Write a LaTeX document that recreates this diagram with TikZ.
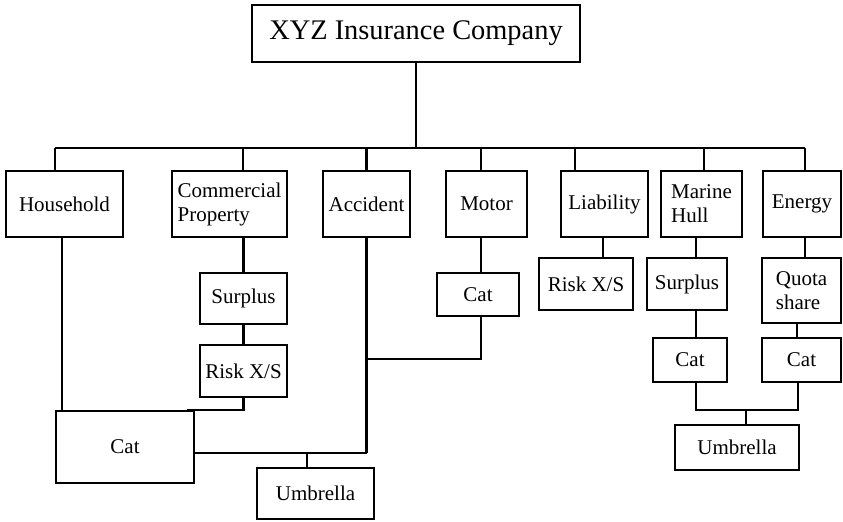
\documentclass[tikz,border=0pt]{standalone}
\usepackage{fontspec}
\setmainfont{Liberation Serif}
\begin{document}
\begin{tikzpicture}[x=0.5pt,y=-0.5pt,
  bx/.style={draw, line width=1.2pt, inner sep=0pt, align=left,
    font=\fontsize{10.5}{12}\selectfont},
  ln/.style={line width=1.2pt}]
\useasboundingbox (0,0) rectangle (843,522);

% top of the hierarchy
\node[bx, minimum width=164pt, minimum height=28.5pt,
  font=\fontsize{14.2}{16}\selectfont] (co) at (416,33.5) {XYZ Insurance Company};

% lines of business
\node[bx, minimum width=58.5pt, minimum height=33pt] (hh) at (64.5,204) {Household};
\node[bx, minimum width=57.5pt, minimum height=33pt] (cp) at (229.5,204) {Commercial\\Property};
\node[bx, minimum width=43.5pt, minimum height=33pt] (ac) at (366.5,204) {Accident};
\node[bx, minimum width=40.5pt, minimum height=33pt] (mo) at (486.5,204) {Motor};
\node[bx, minimum width=43.5pt, minimum height=33pt] (li) at (604.5,204) {Liability};
\node[bx, minimum width=40.5pt, minimum height=33pt] (mh) at (701.5,204) {Marine\\Hull};
\node[bx, minimum width=39pt, minimum height=33pt] (en) at (802,204) {Energy};

% reinsurance programmes
\node[bx, minimum width=43.5pt, minimum height=25.5pt] (surCP) at (243.5,298.5) {Surplus};
\node[bx, minimum width=43.5pt, minimum height=26pt] (rxsCP) at (243.5,371) {Risk X/S};
\node[bx, minimum width=69pt, minimum height=36pt] (catL) at (125,447) {Cat};
\node[bx, minimum width=58.5pt, minimum height=25.5pt] (umbL) at (315.5,493.5) {Umbrella};
\node[bx, minimum width=41pt, minimum height=21.5pt] (catMo) at (478,294.5) {Cat};
\node[bx, minimum width=47pt, minimum height=26pt] (rxsLi) at (586,284) {Risk X/S};
\node[bx, minimum width=40pt, minimum height=26pt] (surMH) at (687,284) {Surplus};
\node[bx, minimum width=39.5pt, minimum height=32.5pt] (qs) at (801.5,290.5) {Quota\\share};
\node[bx, minimum width=37pt, minimum height=22pt] (catMH) at (690,360) {Cat};
\node[bx, minimum width=39.5pt, minimum height=22pt] (catEn) at (801.5,360) {Cat};
\node[bx, minimum width=62pt, minimum height=22.5pt] (umbR) at (737,447.5) {Umbrella};

% junction points
\coordinate (bus) at (0,148);
\coordinate (accmid) at (366.5,359);
\coordinate (lowjoin) at ([yshift=-3pt]catL.east);
\coordinate (rjoin) at (746,410);

% company to the bus and the bus to each line of business
\draw[ln] (co.south) -- (co.south |- bus);
\draw[ln] ([xshift=-4.75pt]hh.north |- bus) -- ([xshift=1.5pt]en.north |- bus);
\draw[ln] ([xshift=-4.75pt]hh.north) -- ([xshift=-4.75pt]hh.north |- bus);
\draw[ln] ([xshift=6.75pt]cp.north) -- ([xshift=6.75pt]cp.north |- bus);
\draw[ln] (ac.north) -- (ac.north |- bus);
\draw[ln] ([xshift=-2.75pt]mo.north) -- ([xshift=-2.75pt]mo.north |- bus);
\draw[ln] ([xshift=-14.75pt]li.north) -- ([xshift=-14.75pt]li.north |- bus);
\draw[ln] ([xshift=1.25pt]mh.north) -- ([xshift=1.25pt]mh.north |- bus);
\draw[ln] ([xshift=1.5pt]en.north) -- ([xshift=1.5pt]en.north |- bus);

% property side
\draw[ln] ([xshift=-1.25pt]hh.south) -- ([xshift=-1.25pt]hh.south |- catL.north);
\draw[ln] (cp.south -| surCP.north) -- (surCP.north);
\draw[ln] (surCP.south) -- (rxsCP.north);
\draw[ln] (rxsCP.south) |- ([xshift=-4pt]catL.north east);

% accident and motor
\draw[ln] ([xshift=-2.75pt]mo.south) -- ([xshift=-2.75pt]mo.south |- catMo.north);
\draw[ln] ([xshift=1.5pt]catMo.south) |- (accmid);
\draw[ln] (ac.south) -- (ac.south |- lowjoin);
\draw[ln] (lowjoin) -- (ac.south |- lowjoin);
\draw[ln] ([xshift=-4.25pt]umbL.north) -- ([xshift=-4.25pt]umbL.north |- lowjoin);

% liability, marine hull and energy
\draw[ln] ([xshift=-0.75pt]li.south) -- ([xshift=-0.75pt]li.south |- rxsLi.north);
\draw[ln] ([xshift=-2.75pt]mh.south) -- ([xshift=-2.75pt]mh.south |- surMH.north);
\draw[ln] ([xshift=4.5pt]surMH.south) -- ([xshift=4.5pt]surMH.south |- catMH.north);
\draw[ln] ([xshift=1.5pt]en.south) -- ([xshift=1.5pt]en.south |- qs.north);
\draw[ln] ([xshift=-2.25pt]qs.south) -- ([xshift=-2.25pt]qs.south |- catEn.north);
\draw[ln] ([xshift=3pt]catMH.south) |- (rjoin) -| ([xshift=-1.75pt]catEn.south);
\draw[ln] (rjoin) -- (rjoin |- umbR.north);
\end{tikzpicture}
\end{document}
